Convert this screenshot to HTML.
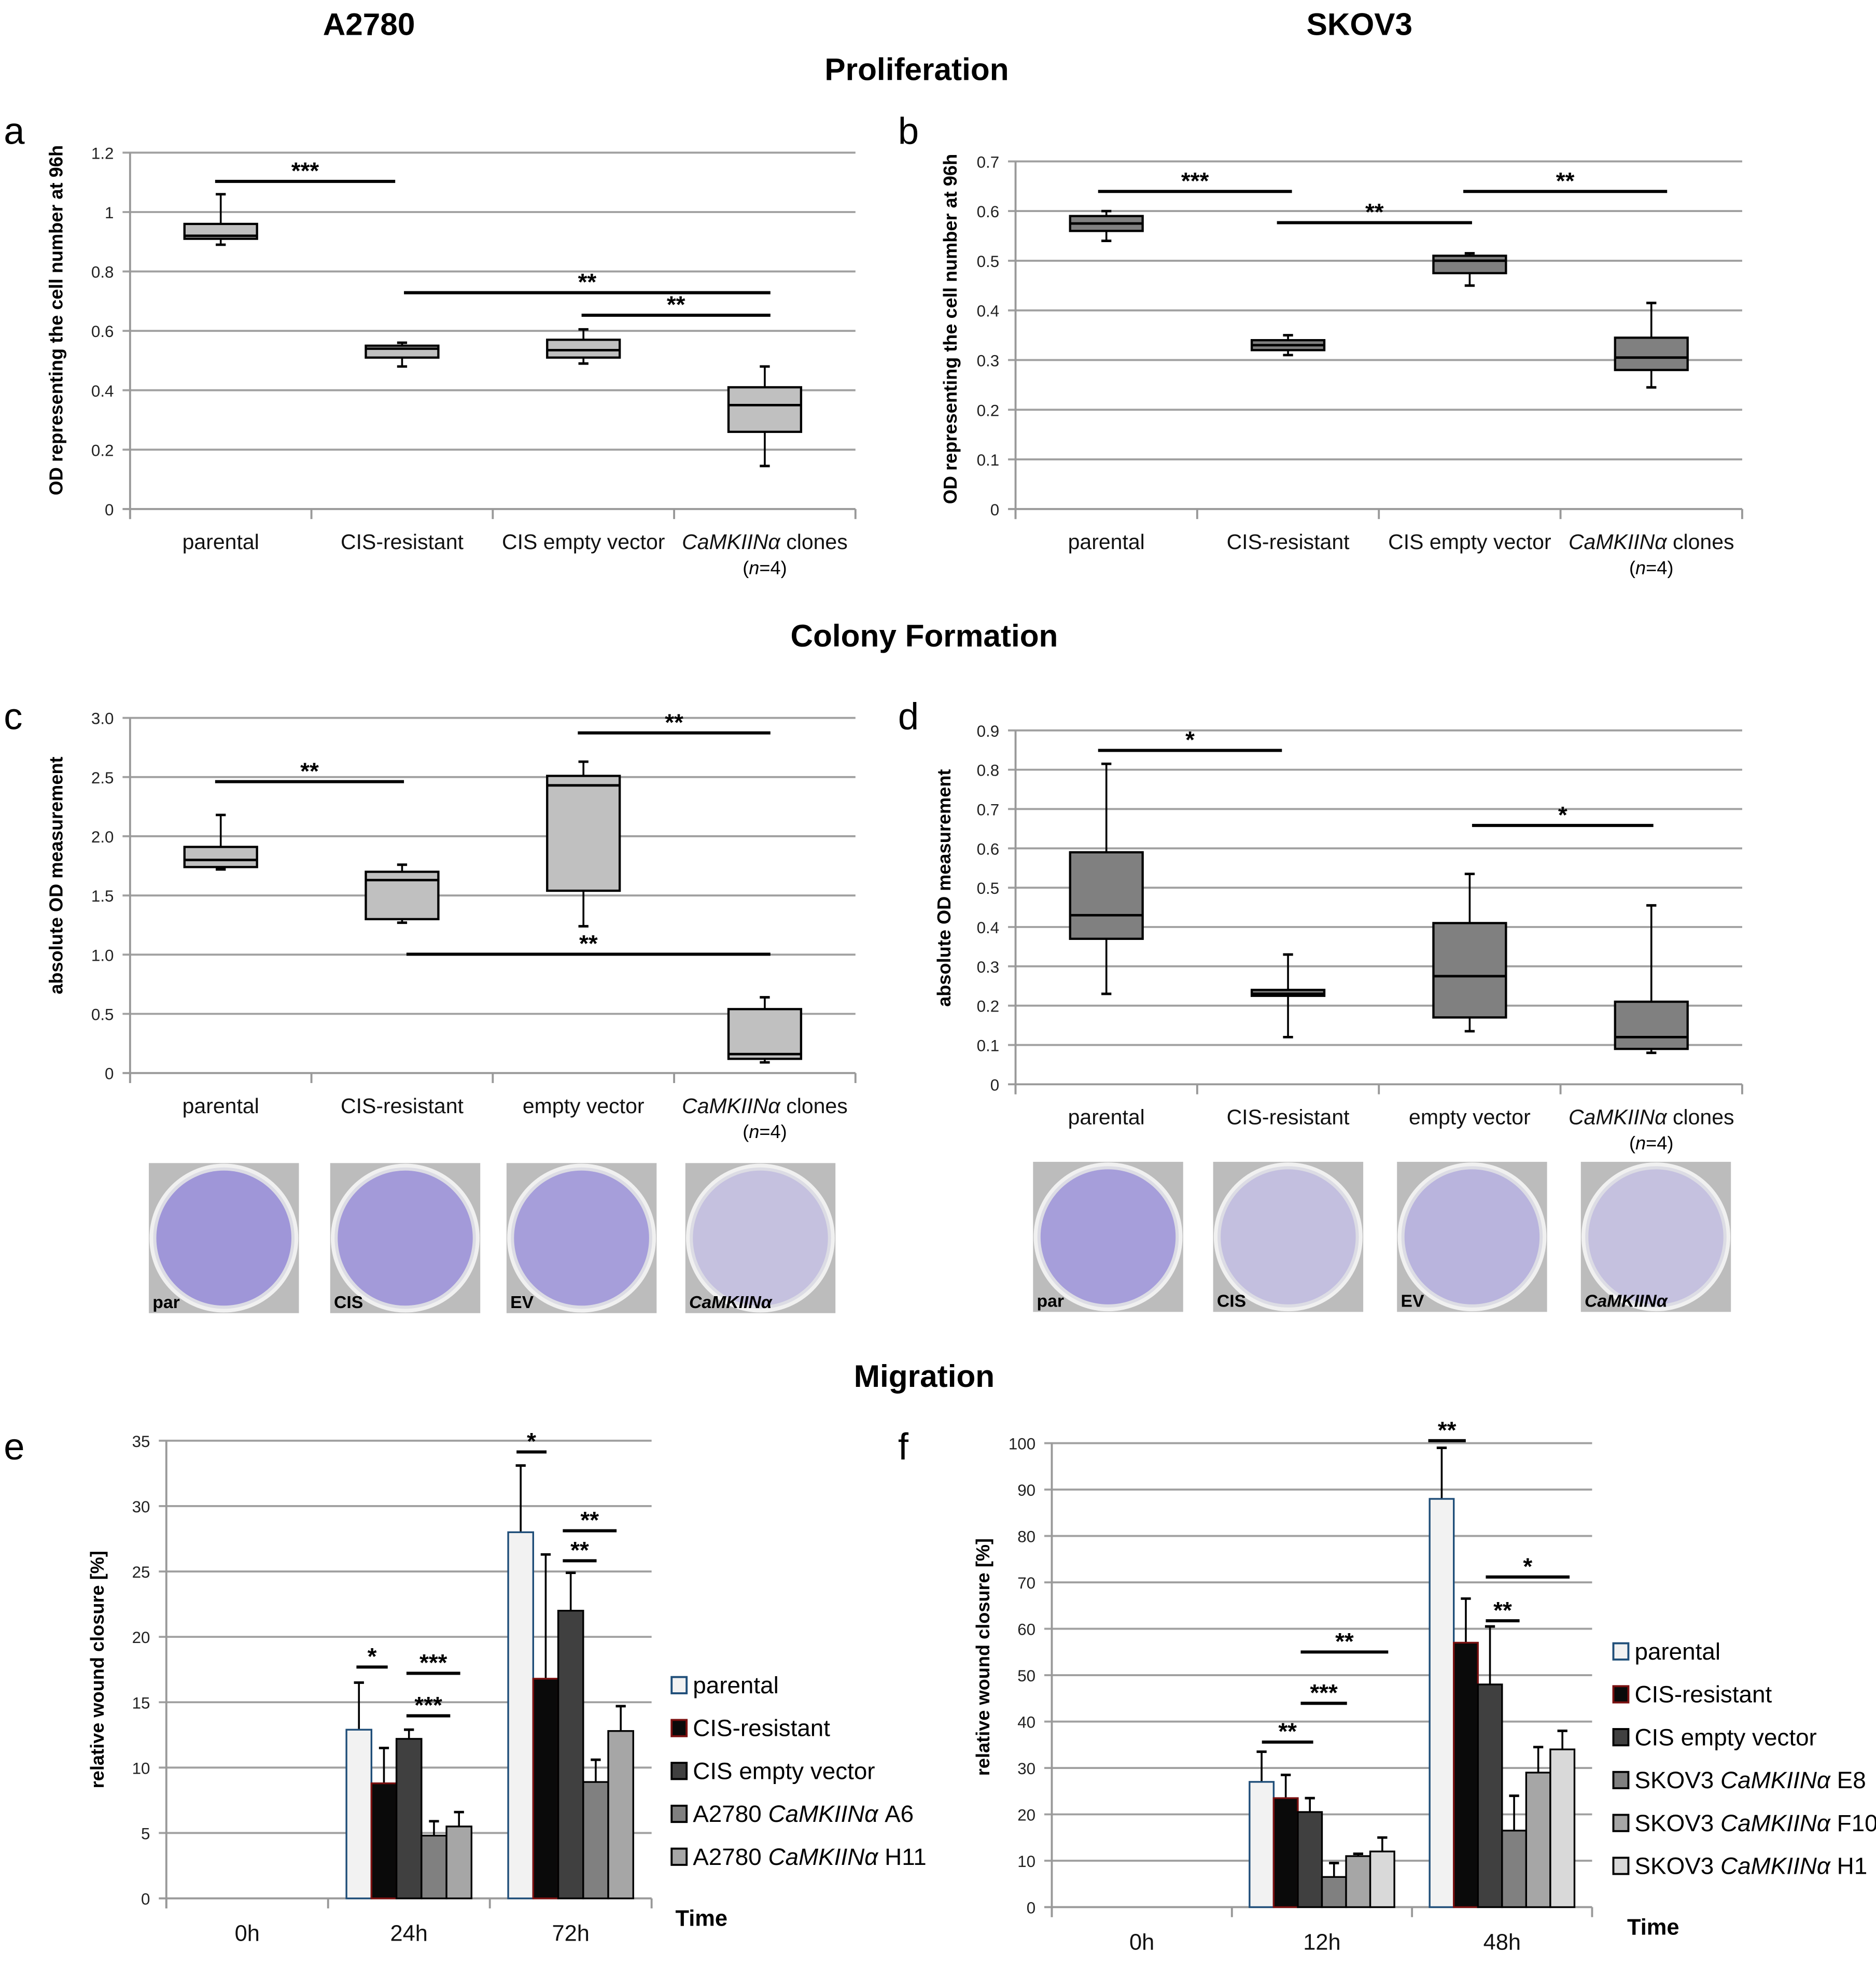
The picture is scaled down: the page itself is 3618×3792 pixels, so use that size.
<!DOCTYPE html>
<html><head><meta charset="utf-8"><style>
html,body{margin:0;padding:0;background:#fff}
svg{display:block;font-family:"Liberation Sans",sans-serif}
</style></head><body>
<svg id="fig" xmlns="http://www.w3.org/2000/svg" width="3618" height="3792" viewBox="0 0 1500 1572">
<g font-weight="bold" text-anchor="middle" fill="#000">
<text x="295" y="28" font-size="25">A2780</text>
<text x="1087" y="28" font-size="25">SKOV3</text>
<text x="733" y="64" font-size="25">Proliferation</text>
<text x="739" y="517" font-size="25">Colony Formation</text>
<text x="739" y="1109" font-size="25">Migration</text>
</g>
<g font-size="30" fill="#000">
<text x="3" y="115">a</text>
<text x="718" y="115">b</text>
<text x="3" y="583">c</text>
<text x="718" y="583">d</text>
<text x="3" y="1167">e</text>
<text x="718" y="1167">f</text>
</g>
</svg>
<script>
// ---- data ----
const boxCats = ["parental","CIS-resistant","CIS empty vector","CaMKIINα clones"];
const boxCatsC = ["parental","CIS-resistant","empty vector","CaMKIINα clones"];
// [min,q1,median,q3,max]
const boxA = [[0.89,0.91,0.92,0.96,1.06],[0.48,0.51,0.54,0.55,0.56],[0.49,0.51,0.535,0.57,0.605],[0.145,0.26,0.35,0.41,0.48]];
const boxB = [[0.54,0.56,0.575,0.59,0.60],[0.31,0.32,0.33,0.34,0.35],[0.45,0.475,0.50,0.51,0.515],[0.245,0.28,0.305,0.345,0.415]];
const boxC = [[1.72,1.74,1.80,1.91,2.18],[1.27,1.30,1.63,1.70,1.76],[1.24,1.54,2.43,2.51,2.63],[0.09,0.12,0.16,0.54,0.64]];
const boxD = [[0.23,0.37,0.43,0.59,0.815],[0.12,0.225,0.23,0.24,0.33],[0.135,0.17,0.275,0.41,0.535],[0.08,0.09,0.12,0.21,0.455]];
const ticksA = [0,0.2,0.4,0.6,0.8,1,1.2];
const ticksB = [0,0.1,0.2,0.3,0.4,0.5,0.6,0.7];
const ticksC = [0,0.5,1.0,1.5,2.0,2.5,3.0];
const ticksD = [0,0.1,0.2,0.3,0.4,0.5,0.6,0.7,0.8,0.9];
const timesE = ["0h","24h","72h"];
const seriesE = ["parental","CIS-resistant","CIS empty vector","A2780 CaMKIINα A6","A2780 CaMKIINα H11"];
const valsE = [[0,12.9,28],[0,8.8,16.8],[0,12.2,22],[0,4.8,8.9],[0,5.5,12.8]];
const errE = [[0,16.5,33.1],[0,11.5,26.3],[0,12.9,24.9],[0,5.9,10.6],[0,6.6,14.7]];
const ticksE = [0,5,10,15,20,25,30,35];
const timesF = ["0h","12h","48h"];
const seriesF = ["parental","CIS-resistant","CIS empty vector","SKOV3 CaMKIINα E8","SKOV3 CaMKIINα F10","SKOV3 CaMKIINα H1"];
const valsF = [[0,27,88],[0,23.5,57],[0,20.5,48],[0,6.5,16.5],[0,11,29],[0,12,34]];
const errF = [[0,33.5,99],[0,28.5,66.5],[0,23.5,60.5],[0,9.5,24],[0,11.5,34.5],[0,15,38]];
const ticksF = [0,10,20,30,40,50,60,70,80,90,100];

const NS="http://www.w3.org/2000/svg";
const svg=document.getElementById('fig');
function mk(tag,attrs,parent){const e=document.createElementNS(NS,tag);for(const k in attrs)e.setAttribute(k,attrs[k]);(parent||svg).appendChild(e);return e;}
function txt(s,attrs,parent){const e=mk('text',attrs,parent);e.textContent=s;return e;}

function axes(p){
  const g=mk('g',{});
  
  
  p.ticks.forEach(t=>{
    const y=p.y(t);
    const l=mk('line',{x1:p.x0-6,x2:p.x1,y1:y,y2:y,stroke:t===0?'#999':'#a0a0a0','stroke-width':1.6},g);
    
    
    const tl=txt(p.fmt(t),{x:p.x0-13,y:y+5,'font-size':13,'text-anchor':'end',fill:'#222'},g);
    
    
  });
  const ax=mk('line',{x1:p.x0,x2:p.x0,y1:p.y(p.ticks[p.ticks.length-1]),y2:p.y(0)+8,stroke:'#999','stroke-width':1.6},g);
  
  
  const n=p.ncat;
  for(let i=0;i<=n;i++){
    const x=p.x0+(p.x1-p.x0)*i/n;
    const tk=mk('line',{x1:x,x2:x,y1:p.y(0),y2:p.y(0)+8,stroke:'#999','stroke-width':1.6},g);
    
    
  }
  const yt=txt(p.ytitle,{x:0,y:0,'font-size':15,'font-weight':'bold','text-anchor':'middle',transform:`translate(${p.ytx},${p.yty}) rotate(-90)`},g);
  
  
}
function catLabel(s,x,y,g,size){
  const t=mk('text',{x:x,y:y,'font-size':size||17,'text-anchor':'middle',fill:'#111'},g);
  if(s.indexOf('CaMKIINα')>=0){
    const a=mk('tspan',{'font-style':'italic'},t);a.textContent='CaMKIINα';
    const b=mk('tspan',{},t);b.textContent=s.replace('CaMKIINα','');
  } else t.textContent=s;
  
  
  return t;
}
function sig(x1,x2,y,stars,g){
  const l=mk('line',{x1:x1,x2:x2,y1:y,y2:y,stroke:'#000','stroke-width':2.5},g);
  
  
  const t=txt(stars,{x:(x1+x2)/2,y:y-2,'font-size':19,'font-weight':'bold','text-anchor':'middle'},g);
  
  
}
function boxPanel(p){
  axes(p);
  const g=mk('g',{});
  
  
  const w=(p.x1-p.x0)/p.ncat;
  p.data.forEach((d,i)=>{
    const cx=p.x0+w*(i+0.5);
    const bw=58;
    const wl=mk('line',{x1:cx,x2:cx,y1:p.y(d[4]),y2:p.y(d[0]),stroke:'#000','stroke-width':1.5},g);
    
    
    [d[0],d[4]].forEach(v=>{
      const c=mk('line',{x1:cx-4,x2:cx+4,y1:p.y(v),y2:p.y(v),stroke:'#000','stroke-width':2},g);
      
      
    });
    const r=mk('rect',{x:cx-bw/2,y:p.y(d[3]),width:bw,height:p.y(d[1])-p.y(d[3]),fill:p.fill,stroke:'#000','stroke-width':1.8},g);
    
    
    const m=mk('line',{x1:cx-bw/2,x2:cx+bw/2,y1:p.y(d[2]),y2:p.y(d[2]),stroke:'#000','stroke-width':2},g);
    
    
    catLabel(p.cats[i],cx,p.y(0)+32,g);
    if(i===3){const n=mk('text',{x:cx,y:p.y(0)+52,'font-size':15,'text-anchor':'middle'},g);
      const a=mk('tspan',{},n);a.textContent='(';const b=mk('tspan',{'font-style':'italic'},n);b.textContent='n';const c=mk('tspan',{},n);c.textContent='=4)';
      
      }
  });
  p.sigs.forEach(s=>sig(s[0],s[1],s[2],s[3],g));
}
function lin(v0,y0,v1,y1){return v=>y0+(v-v0)*(y1-y0)/(v1-v0);}

boxPanel({name:'panel-a',x0:104,x1:684,y:lin(0,407,1.2,122),ticks:ticksA,fmt:t=>String(t),ncat:4,data:boxA,cats:boxCats,fill:'#c0c0c0',
  ytitle:'OD representing the cell number at 96h',ytx:50,yty:256,sigs:[[172,316,145,'***'],[323,616,234,'**'],[465,616,252,'**']]});
boxPanel({name:'panel-b',x0:812,x1:1393,y:lin(0,407,0.7,129),ticks:ticksB,fmt:t=>String(t),ncat:4,data:boxB,cats:boxCats,fill:'#808080',
  ytitle:'OD representing the cell number at 96h',ytx:765,yty:263,sigs:[[878,1033,153,'***'],[1021,1177,178,'**'],[1170,1333,153,'**']]});
boxPanel({name:'panel-c',x0:104,x1:684,y:lin(0,858,3.0,574),ticks:ticksC,fmt:t=>t===0?'0':t.toFixed(1),ncat:4,data:boxC,cats:boxCatsC,fill:'#c0c0c0',
  ytitle:'absolute OD measurement',ytx:50,yty:700,sigs:[[172,323,625,'**'],[462,616,586,'**'],[325,616,763,'**']]});
boxPanel({name:'panel-d',x0:812,x1:1393,y:lin(0,867,0.9,584),ticks:ticksD,fmt:t=>String(t),ncat:4,data:boxD,cats:boxCatsC,fill:'#808080',
  ytitle:'absolute OD measurement',ytx:760,yty:710,sigs:[[878,1025,600,'*'],[1177,1322,660,'*']]});

// colony photos
const photoLabels=['par','CIS','EV','CaMKIINα'];
const photoDens=[[1,0.9,0.85,0.2],[0.85,0.25,0.45,0.2]];
[[[119,264,405,548],930],[[826,970,1117,1264],929]].forEach((row,ri)=>{
  row[0].forEach((x,i)=>{
    const y=row[1],s=120;
    const g=mk('g',{});
    
    
    mk('rect',{x:x,y:y,width:s,height:s,fill:'#bcbcbc'},g);
    mk('circle',{cx:x+s/2,cy:y+s/2,r:s/2-2,fill:'#dcdce4',stroke:'#f0f0f0','stroke-width':3},g);
    const dens=photoDens[ri][i];
    mk('circle',{cx:x+s/2,cy:y+s/2,r:s/2-6,fill:'#7060d0','fill-opacity':0.12+0.45*dens},g);
    const t=txt(photoLabels[i],{x:x+3,y:y+s-4,'font-size':14,'font-weight':'bold','font-style':i===3?'italic':'normal'},g);
    
    
  });
});

function barPanel(p){
  axes(p);
  const g=mk('g',{});
  
  
  const gw=(p.x1-p.x0)/3;
  const ns=p.vals.length;
  p.times.forEach((tm,ti)=>{
    const cx=p.x0+gw*(ti+0.5);
    catLabel(tm,cx,p.y(0)+34,g,18);
    if(ti===0) return;
    const start=cx-p.bw*ns/2;
    p.vals.forEach((sv,si)=>{
      const v=sv[ti],x=start+si*p.bw;
      const e=p.err[si][ti];
      const el=mk('line',{x1:x+p.bw/2,x2:x+p.bw/2,y1:p.y(e),y2:p.y(v),stroke:'#000','stroke-width':1.5},g);
      
      
      const ec=mk('line',{x1:x+p.bw/2-4,x2:x+p.bw/2+4,y1:p.y(e),y2:p.y(e),stroke:'#000','stroke-width':2},g);
      
      
      const r=mk('rect',{x:x,y:p.y(v),width:p.bw,height:p.y(0)-p.y(v),fill:p.colors[si],stroke:p.strokes[si],'stroke-width':1.4},g);
      
      
    });
  });
  p.sigs.forEach(s=>sig(s[0],s[1],s[2],s[3],g));
  const lg=mk('g',{});
  
  
  p.series.forEach((s,i)=>{
    const y=p.ly+i*p.ldy;
    const r=mk('rect',{x:p.lx,y:y-12,width:12,height:13,fill:p.colors[i],stroke:p.strokes[i],'stroke-width':1.6},lg);
    
    
    const t=mk('text',{x:p.lx+17,y:y+1,'font-size':19},lg);
    const parts=s.split('CaMKIINα');
    const a=mk('tspan',{},t);a.textContent=parts[0];
    if(parts.length>1){const b=mk('tspan',{'font-style':'italic'},t);b.textContent='CaMKIINα';const c=mk('tspan',{},t);c.textContent=parts[1];}
    
    
  });
  const tt=txt('Time',{x:p.tx,y:p.ty,'font-size':18,'font-weight':'bold'},lg);
  
  
}
barPanel({name:'panel-e',x0:133,x1:521,y:lin(0,1518,35,1152),ticks:ticksE,fmt:t=>String(t),ncat:3,times:timesE,vals:valsE,err:errE,series:seriesE,bw:20,
  colors:['#f2f2f2','#0a0a0a','#404040','#808080','#a6a6a6'],strokes:['#1f4e79','#7a1010','#000','#000','#000'],
  ytitle:'relative wound closure [%]',ytx:83,yty:1335,lx:537,ly:1353,ldy:34.3,tx:540,ty:1540,
  sigs:[[285,310,1333,'*'],[325,368,1338,'***'],[325,360,1372,'***'],[413,437,1161,'*'],[450,493,1224,'**'],[450,477,1248,'**']]});
barPanel({name:'panel-f',x0:841,x1:1273,y:lin(0,1525,100,1154),ticks:ticksF,fmt:t=>String(t),ncat:3,times:timesF,vals:valsF,err:errF,series:seriesF,bw:19.3,
  colors:['#f2f2f2','#0a0a0a','#404040','#808080','#a6a6a6','#d9d9d9'],strokes:['#1f4e79','#7a1010','#000','#000','#000','#000'],
  ytitle:'relative wound closure [%]',ytx:791,yty:1325,lx:1290,ly:1326,ldy:34.3,tx:1301,ty:1547,
  sigs:[[1142,1172,1152,'**'],[1009,1050,1393,'**'],[1040,1077,1362,'***'],[1040,1110,1321,'**'],[1188,1215,1296,'**'],[1188,1255,1261,'*']]});
</script>
</body></html>
